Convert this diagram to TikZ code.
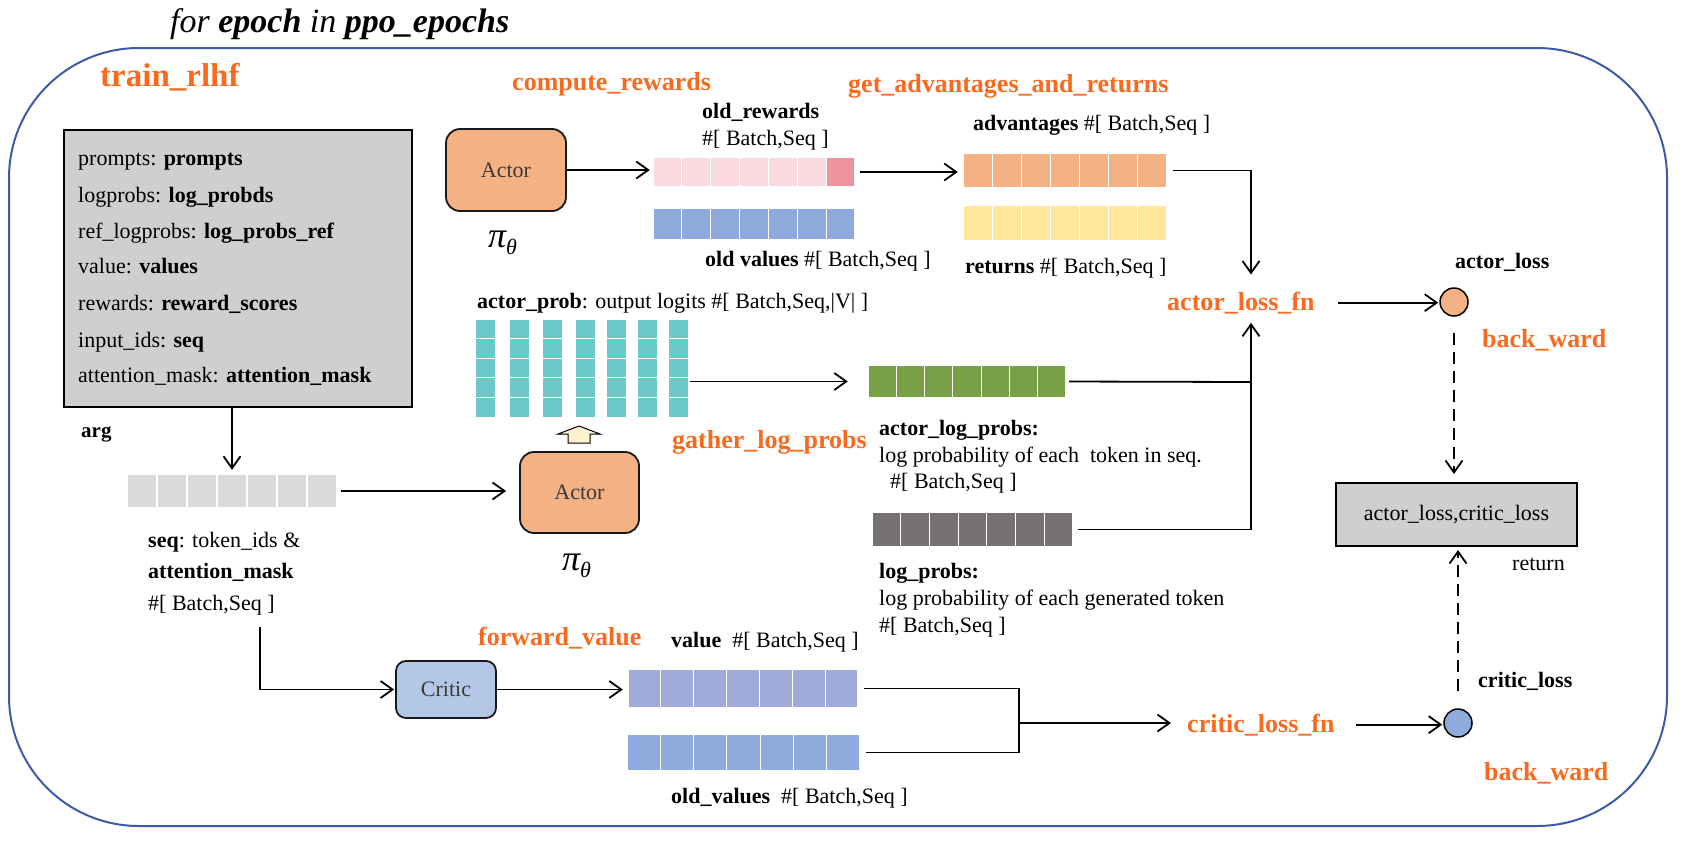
\documentclass[tikz,border=0pt]{standalone}
\usepackage{fontspec}
\setmainfont{LiberationSerif}[Extension=.ttf, UprightFont=*-Regular, BoldFont=*-Bold, ItalicFont=*-Italic, BoldItalicFont=*-BoldItalic]
\usetikzlibrary{arrows.meta,fit,calc}
\definecolor{orng}{HTML}{F96A1E}
\definecolor{frameblue}{HTML}{3B5BA9}
\definecolor{actorc}{HTML}{F4B183}
\definecolor{criticc}{HTML}{B4C7E7}
\definecolor{argsgrey}{HTML}{D0CECE}
\definecolor{pinkl}{HTML}{F9DADF}
\definecolor{pinkd}{HTML}{EE939D}
\definecolor{bluec}{HTML}{8FAADC}
\definecolor{yellowc}{HTML}{FFE699}
\definecolor{tealc}{HTML}{6CC9C9}
\definecolor{greenc}{HTML}{78A046}
\definecolor{darkgreyc}{HTML}{767171}
\definecolor{valc}{HTML}{9FABD9}
\definecolor{seqc}{HTML}{D9D9D9}
\definecolor{blockc}{HTML}{FFF2CC}
\definecolor{boxtext}{HTML}{3B3838}

\newcommand{\cellbar}[6]{%
  \foreach \ci in {0,...,6}{%
    \filldraw[fill=#6, draw=white, line width=1.2pt] ({#2+(#4-#2)*\ci/7},#3) rectangle ({#2+(#4-#2)*(\ci+1)/7},#5);
  }%
  \node[fit={(#2,#3)(#4,#5)}, inner sep=0pt] (#1) {};
}

\tikzset{
 txt/.style={anchor=base west, inner sep=0pt, font=\fontsize{22}{26}\selectfont},
 btxt/.style={anchor=base west, inner sep=0pt, font=\fontsize{22}{26}\selectfont\bfseries},
 olab/.style={anchor=base west, inner sep=0pt, text=orng, font=\fontsize{26}{30}\selectfont\bfseries},
 conn/.style={draw, line width=1.8pt, -{Straight Barb[length=12pt,width=17pt,line width=1.8pt]}},
 wire/.style={draw, line width=1.8pt},
 dashconn/.style={conn, dash pattern=on 12pt off 7pt},
 modelbox/.style={draw=black!90, line width=1.8pt, inner sep=0pt, text=boxtext, font=\fontsize{22}{26}\selectfont},
 greybox/.style={draw, line width=2pt, fill=argsgrey, inner sep=0pt},
 losscirc/.style={circle, draw, line width=1.5pt, minimum size=28pt, inner sep=0pt},
 pilab/.style={anchor=base west, inner sep=0pt},
}

\begin{document}
\begin{tikzpicture}[x=1pt,y=-1pt]
\useasboundingbox (0,0) rectangle (1683,841);

% title and frame
\node[anchor=base west, inner sep=0pt, font=\fontsize{34}{37}\selectfont\itshape] (title) at (170,32) {for \textbf{epoch} in \textbf{ppo\_epochs}};
\draw[frameblue, line width=2pt, rounded corners=130pt] (9,48) rectangle (1667,826);
\node[anchor=base west, inner sep=0pt, text=orng, font=\fontsize{33}{36}\selectfont\bfseries] (trainrlhf) at (100,86) {train\_rlhf};

% args box
\node[greybox, minimum width=348pt, minimum height=277pt] (args) at (238,268.5) {};
\node[txt] (a1) at (78,165) {prompts: \textbf{prompts}};
\node[txt] (a2) at (78,202) {logprobs: \textbf{log\_probds}};
\node[txt] (a3) at (78,238) {ref\_logprobs: \textbf{log\_probs\_ref}};
\node[txt] (a4) at (78,273) {value: \textbf{values}};
\node[txt] (a5) at (78,310) {rewards: \textbf{reward\_scores}};
\node[txt] (a6) at (78,347) {input\_ids: \textbf{seq}};
\node[txt] (a7) at (78,382) {attention\_mask: \textbf{attention\_mask}};
\node[anchor=base west, inner sep=0pt, font=\fontsize{21}{24}\selectfont\bfseries] (arg) at (81,437) {arg};

% seq bar
\cellbar{seqbar}{127}{474}{337}{508}{seqc}
\node[txt] (seql1) at (148,547) {\textbf{seq}: token\_ids \&};
\node[btxt] (seql2) at (148,578) {attention\_mask};
\node[txt] (seql3) at (148,610) {\#[ Batch,Seq ]};
\coordinate (seqdn) at (260,627);

% actor 1
\node[modelbox, fill=actorc, rounded corners=14pt, minimum width=120pt, minimum height=82pt] (actor1) at (506,170) {Actor};
\node[pilab] (pi1) at (488,247) {\fontsize{36}{36}\selectfont\itshape π\raisebox{-7pt}{\fontsize{22}{22}\selectfont θ}};
\node[olab] (computerew) at (512,90) {compute\_rewards};

% old rewards / old values
\cellbar{oldrew}{653}{157}{855}{187}{pinkl}
\filldraw[fill=pinkd, draw=white, line width=1.2pt] ({855-202/7},157) rectangle (855,187);
\cellbar{oldval}{653}{208}{855}{240}{bluec}
\node[btxt] (oldrewl1) at (702,118) {old\_rewards};
\node[txt] (oldrewl2) at (702,145) {\#[ Batch,Seq ]};
\node[txt] (oldvall) at (705,266) {\textbf{old values} \#[ Batch,Seq ]};

% advantages / returns
\node[olab] (getadv) at (848,92) {get\_advantages\_and\_returns};
\cellbar{adv}{963}{153}{1167}{188}{actorc}
\cellbar{ret}{963}{205}{1167}{241}{yellowc}
\node[txt] (advl) at (973,130) {\textbf{advantages} \#[ Batch,Seq ]};
\node[txt] (retl) at (965,273) {\textbf{returns} \#[ Batch,Seq ]};

% logits
\node[txt] (logitsl) at (477,308) {\textbf{actor\_prob}: output logits \#[ Batch,Seq,|V| ]};
\foreach \cx in {475,509,542,575,606,637,668}{
  \foreach \r in {0,...,4}{
    \filldraw[fill=tealc, draw=white, line width=1pt] (\cx,{319+\r*19.6}) rectangle ({\cx+20},{319+(\r+1)*19.6});
  }
}
\node[fit={(475,319)(688,417)}, inner sep=0pt] (logits) {};
\filldraw[fill=blockc, draw=black, line width=1pt] (579,426) -- (600,434) -- (590,434) -- (590,443) -- (568,443) -- (568,434) -- (558,434) -- cycle;
\node[olab] (gather) at (672,448) {gather\_log\_probs};

% actor 2
\node[modelbox, fill=actorc, rounded corners=14pt, minimum width=119pt, minimum height=81pt] (actor2) at (579.5,492.5) {Actor};
\node[pilab] (pi2) at (562,570) {\fontsize{36}{36}\selectfont\itshape π\raisebox{-7pt}{\fontsize{22}{22}\selectfont θ}};

% actor log probs / log probs
\cellbar{green}{868}{365}{1066}{398}{greenc}
\node[btxt] (alp1) at (879,435) {actor\_log\_probs:};
\node[txt] (alp2) at (879,462) {log probability of each\ \ token in seq.};
\node[txt] (alp3) at (890,488) {\#[ Batch,Seq ]};
\cellbar{lpbar}{872}{512}{1073}{547}{darkgreyc}
\node[btxt] (lp1) at (879,578) {log\_probs:};
\node[txt] (lp2) at (879,605) {log probability of each generated token};
\node[txt] (lp3) at (879,632) {\#[ Batch,Seq ]};

% critic
\node[modelbox, fill=criticc, rounded corners=10pt, minimum width=100pt, minimum height=57pt] (critic) at (446,689.5) {Critic};
\node[olab] (fwdval) at (478,645) {forward\_value};
\node[txt] (vall) at (671,647) {\textbf{value}\ \ \#[ Batch,Seq ]};
\cellbar{valbar}{628}{669}{858}{708}{valc}
\cellbar{oldvbar}{627}{734}{860}{771}{bluec}
\node[txt] (oldvl) at (671,803) {\textbf{old\_values}\ \ \#[ Batch,Seq ]};

% loss functions
\node[olab] (alf) at (1167,310) {actor\_loss\_fn};
\node[olab] (clf) at (1187,732) {critic\_loss\_fn};
\coordinate (jx) at (1251,382);
\coordinate (jc) at (1019,723);

% loss circles and return
\node[losscirc, fill=actorc] (acirc) at (1454,302) {};
\node[losscirc, fill=bluec] (ccirc) at (1458,723) {};
\node[btxt] (actlossl) at (1455,268) {actor\_loss};
\node[olab] (bw1) at (1482,347) {back\_ward};
\node[btxt] (critlossl) at (1478,687) {critic\_loss};
\node[olab] (bw2) at (1484,780) {back\_ward};
\node[greybox, minimum width=241pt, minimum height=63pt, font=\fontsize{22}{26}\selectfont] (retbox) at (1456.5,514.5) {actor\_loss,critic\_loss};
\node[txt] (retl2) at (1512,570) {return};

% connectors
\draw[conn, shorten >=4pt] (seqbar.north |- args.south) -- (seqbar.north);
\draw[conn, shorten <=4pt, shorten >=13pt] (seqbar.east) -- (seqbar.east -| actor2.west);
\draw[conn, shorten >=3pt] (actor1.east) -- (actor1.east -| oldrew.west);
\draw[conn, shorten <=5pt, shorten >=5pt] (oldrew.east) -- (oldrew.east -| adv.west);
\draw[conn, shorten <=6pt, shorten >=17pt] (adv.east) -- (adv.east -| jx) -- (jx |- alf.north);
\draw[wire, shorten <=3pt] (green.east) -- (jx);
\draw[conn, shorten <=5pt, shorten >=9pt] (lpbar.east) -- (lpbar.east -| jx) -- (jx |- alf.south);
\draw[conn, shorten <=2pt, shorten >=20pt] (logits.east |- green.west) -- (green.west);
\draw[conn, shorten <=23pt, shorten >=1pt] (alf.east) -- (alf.east -| acirc.west);
\draw[dashconn, shorten <=16pt, shorten >=8pt] (acirc.south) -- (acirc.south |- retbox.north);
\draw[dashconn, shorten <=17pt, shorten >=3pt] (ccirc.north) -- (ccirc.north |- retbox.south);
\draw[conn, shorten >=1pt] (seqdn) |- (critic.west);
\draw[conn, shorten >=5pt] (critic.east) -- (critic.east -| valbar.west);
\draw[wire, shorten <=6pt, shorten >=6pt] (valbar.east) -- (valbar.east -| jc) -- (oldvbar.east -| jc) -- (oldvbar.east);
\draw[conn, shorten >=16pt] (jc) -- (jc -| clf.west);
\draw[conn, shorten <=21pt, shorten >=1pt] (clf.east) -- (clf.east -| ccirc.west);
\end{tikzpicture}
\end{document}
